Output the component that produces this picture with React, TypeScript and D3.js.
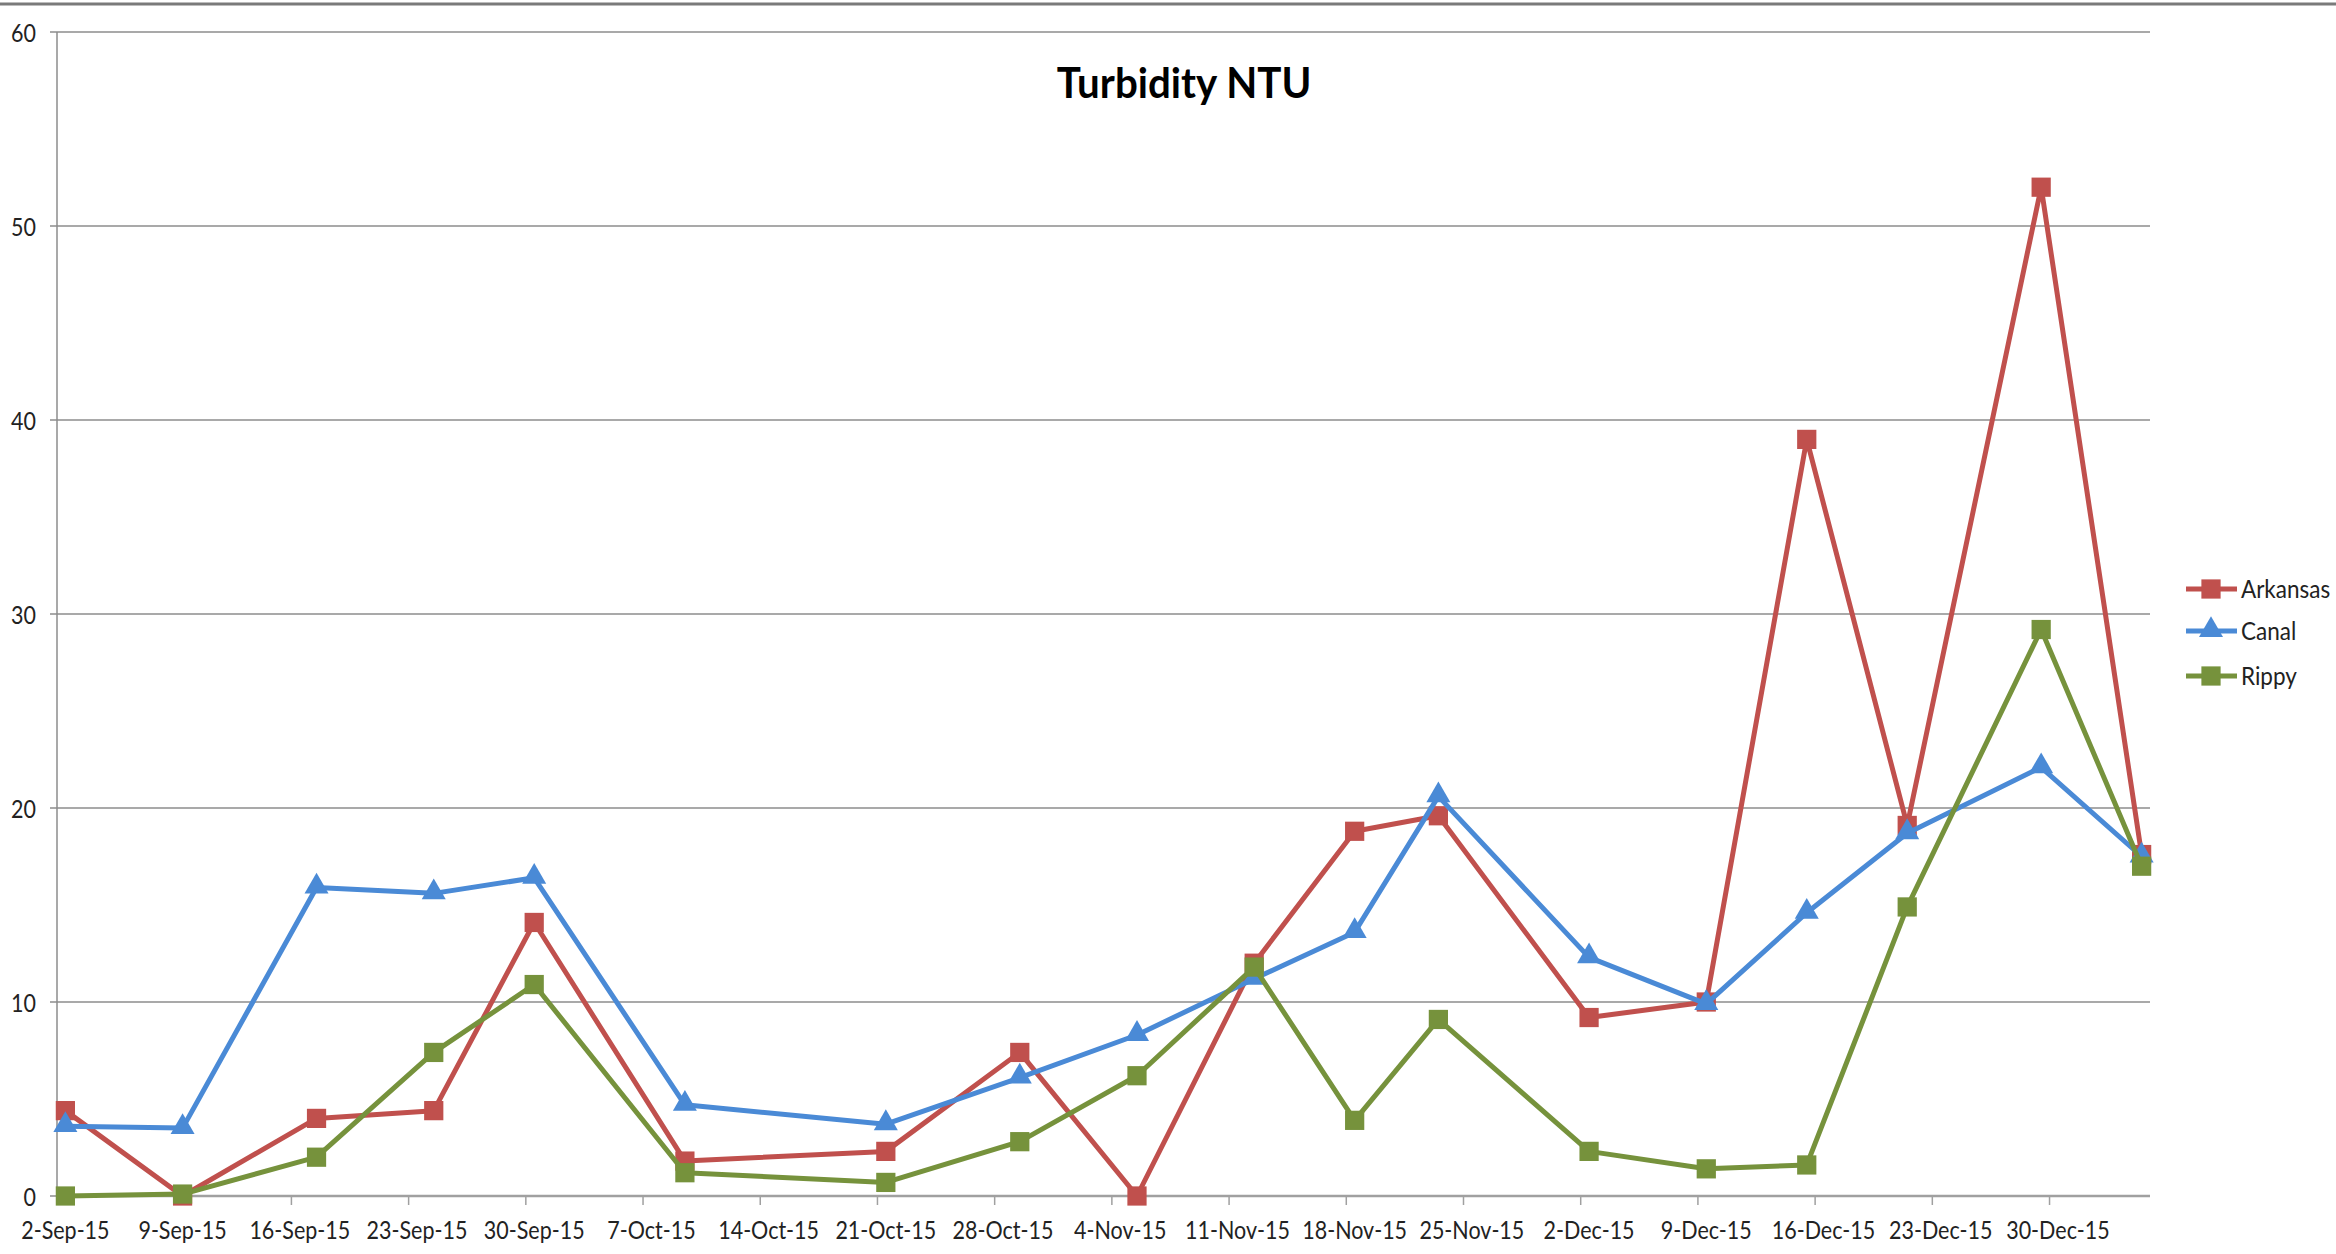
import React, { useEffect, useRef } from 'react';
import * as d3 from 'd3';

// sample dates and turbidity readings (NTU)
const sampleDates = [
  '2015-09-02', '2015-09-09', '2015-09-17', '2015-09-24', '2015-09-30',
  '2015-10-09', '2015-10-21', '2015-10-29', '2015-11-05', '2015-11-12',
  '2015-11-18', '2015-11-23', '2015-12-02', '2015-12-09', '2015-12-15',
  '2015-12-21', '2015-12-29', '2016-01-04',
];
const arkansas = [4.4, 0, 4.0, 4.4, 14.1, 1.8, 2.3, 7.4, 0, 12.0, 18.8, 19.6, 9.2, 10.0, 39.0, 19.1, 52.0, 17.6];
const canal = [3.6, 3.5, 15.9, 15.6, 16.4, 4.7, 3.7, 6.1, 8.3, 11.2, 13.6, 20.6, 12.3, 9.9, 14.6, 18.7, 22.1, 17.5];
const rippy = [0, 0.1, 2.0, 7.4, 10.9, 1.2, 0.7, 2.8, 6.2, 11.8, 3.9, 9.1, 2.3, 1.4, 1.6, 14.9, 29.2, 17.0];

const seriesNames = ['Arkansas', 'Canal', 'Rippy'];
const seriesColors = ['#C0504D', '#4A8AD6', '#76923C'];
const seriesMarkers = ['square', 'triangle', 'square'];
const yTicks = [0, 10, 20, 30, 40, 50, 60];

const W = 2336;
const H = 1254;

const TurbidityChart = () => {
  const ref = useRef<SVGSVGElement>(null);

  useEffect(() => {
    const svg = d3.select(ref.current);
    svg.selectAll('*').remove();

    const font = 'Lato, "Open Sans", sans-serif';
    const left = 57, right = 2150, top = 32, bottom = 1196;
    const squeeze = 0.86; // narrow the glyphs a little, closer to Calibri

    const parse = d3.utcParse('%Y-%m-%d');
    const dates = sampleDates.map(s => parse(s) as Date);
    const start = dates[0];
    const end = d3.utcDay.offset(dates[dates.length - 1], 1);

    const x = d3.scaleUtc().domain([start, end]).range([left, right]);
    const y = d3.scaleLinear().domain([0, 60]).range([bottom, top]);
    const xc = (d: Date) => x(d3.utcHour.offset(d, 12)); // centre of the day slot

    // top border strip
    svg.append('rect').attr('x', 0).attr('y', 0).attr('width', W).attr('height', H).attr('fill', '#fff');
    svg.append('line').attr('x1', 0).attr('x2', W).attr('y1', 4).attr('y2', 4)
      .attr('stroke', '#7a7a7a').attr('stroke-width', 3);

    // gridlines
    svg.append('g').selectAll('line').data(yTicks.filter(t => t > 0)).join('line')
      .attr('x1', left).attr('x2', right)
      .attr('y1', d => y(d)).attr('y2', d => y(d))
      .attr('stroke', '#8c8c8c').attr('stroke-width', 1.5);

    // y axis
    svg.append('line').attr('x1', left).attr('x2', left).attr('y1', top).attr('y2', bottom)
      .attr('stroke', '#8c8c8c').attr('stroke-width', 1.5);
    svg.append('g').selectAll('line').data(yTicks).join('line')
      .attr('x1', left - 7).attr('x2', left)
      .attr('y1', d => y(d)).attr('y2', d => y(d))
      .attr('stroke', '#8c8c8c').attr('stroke-width', 1.5);
    svg.append('g').selectAll('text').data(yTicks).join('text')
      .attr('transform', d => `translate(36,${y(d)}) scale(${squeeze},1)`)
      .attr('text-anchor', 'end').attr('dominant-baseline', 'central')
      .attr('font-family', font).attr('font-size', 25).attr('fill', '#222')
      .text(d => d);

    // x axis (weekly ticks, labels centred on the day)
    const weeks = d3.utcDay.range(start, end, 1).filter((d, i) => i % 7 === 0);
    svg.append('line').attr('x1', left).attr('x2', right).attr('y1', bottom).attr('y2', bottom)
      .attr('stroke', '#a0a0a0').attr('stroke-width', 2.5);
    svg.append('g').selectAll('line').data(weeks).join('line')
      .attr('x1', d => x(d)).attr('x2', d => x(d))
      .attr('y1', bottom).attr('y2', bottom + 9)
      .attr('stroke', '#a0a0a0').attr('stroke-width', 1.5);
    const fmt = d3.utcFormat('%-d-%b-%y');
    svg.append('g').selectAll('text').data(weeks).join('text')
      .attr('transform', d => `translate(${xc(d)},1229) scale(${squeeze},1)`)
      .attr('text-anchor', 'middle').attr('dominant-baseline', 'central')
      .attr('font-family', font).attr('font-size', 25).attr('fill', '#222')
      .text(d => fmt(d));

    // title
    svg.append('text')
      .attr('transform', 'translate(1184,82) scale(0.96,1)')
      .attr('text-anchor', 'middle').attr('dominant-baseline', 'central')
      .attr('font-family', font).attr('font-size', 42).attr('font-weight', 'bold')
      .attr('fill', '#000').text('Turbidity NTU');

    const square = d3.symbol(d3.symbolSquare, 370);
    const triangle = d3.symbol(d3.symbolTriangle, 250);
    const drawMarker = (g: any, kind: string, color: string, cx: number, cy: number) => {
      g.append('path')
        .attr('d', kind === 'square' ? square() : triangle())
        .attr('transform', `translate(${cx},${kind === 'square' ? cy : cy - 1})`)
        .attr('fill', color);
    };

    const allSeries = [arkansas, canal, rippy];
    const line = d3.line<[Date, number]>().x(d => xc(d[0])).y(d => y(d[1]));

    allSeries.forEach((vals, si) => {
      const pts: [Date, number][] = dates.map((d, i) => [d, vals[i]]);
      const g = svg.append('g');
      g.append('path').datum(pts)
        .attr('fill', 'none').attr('stroke', seriesColors[si]).attr('stroke-width', 5)
        .attr('stroke-linejoin', 'round').attr('stroke-linecap', 'round')
        .attr('d', line);
      pts.forEach(p => drawMarker(g, seriesMarkers[si], seriesColors[si], xc(p[0]), y(p[1])));
    });

    // legend
    const legendY = [589, 631, 676];
    seriesNames.forEach((name, i) => {
      const g = svg.append('g');
      g.append('line').attr('x1', 2186).attr('x2', 2237)
        .attr('y1', legendY[i]).attr('y2', legendY[i])
        .attr('stroke', seriesColors[i]).attr('stroke-width', 5);
      drawMarker(g, seriesMarkers[i], seriesColors[i], 2211, legendY[i]);
      g.append('text')
        .attr('transform', `translate(2241,${legendY[i]}) scale(0.9,1)`)
        .attr('dominant-baseline', 'central')
        .attr('font-family', font).attr('font-size', 25).attr('fill', '#222')
        .text(name);
    });
  }, []);

  return <svg ref={ref} width={W} height={H} style={{ display: 'block' }}></svg>;
};

export default function App() {
  return (
    <div style={{ position: 'fixed', left: 0, top: 0, width: W, height: H, background: '#fff' }}>
      <TurbidityChart />
    </div>
  );
}
